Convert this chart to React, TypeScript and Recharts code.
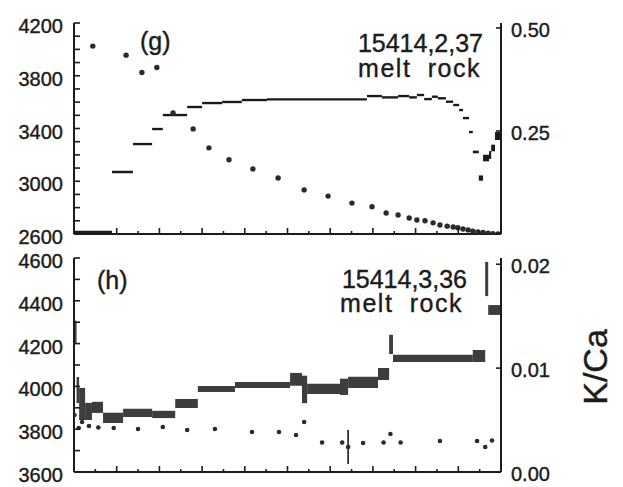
import React from "react"
import {
    ComposedChart,
    Scatter,
    XAxis,
    YAxis,
    ReferenceArea,
    ErrorBar
} from "recharts"

// panel (g) 15414,2,37 - step edges in cumulative % 39Ar, ages in Ma
const gEdges = [0, 8.9, 13.8, 18.3, 20.8, 26.5, 30.0, 34.7, 39.3, 45.2, 68.6, 72.1, 75.9, 78.5, 80.3, 82.0, 83.8, 85.2, 87.1, 88.8, 90.2, 91.1, 92.5, 93.4, 94.8, 95.8, 97.2, 97.7, 98.6, 100]
const gAges = [2615, 3070, 3282, 3396, 3502, 3563, 3593, 3601, 3616, 3621, 3646, 3636, 3646, 3636, 3654, 3623, 3641, 3629, 3603, 3578, 3540, 3479, 3373, 3222, 3024, 3176, 3199, 3252, 3343]
const gErrs = [10, 10, 9, 9, 9, 9, 9, 9, 9, 9, 9, 9, 9, 9, 9, 9, 9, 9, 9, 9, 9, 9, 9, 10, 20, 25, 30, 25, 30]
const gKcaX = [4.4, 12.2, 15.9, 19.4, 23.2, 27.9, 31.6, 36.3, 41.9, 47.8, 53.9, 59.5, 65.1, 69.8, 73.1, 75.9, 78.5, 80.3, 82.2, 84.1, 85.7, 87.4, 88.8, 89.9, 91.1, 92.3, 93.4, 94.6, 95.8, 97.0, 98.1, 99.3]
const gKca = [0.456, 0.434, 0.392, 0.404, 0.294, 0.255, 0.209, 0.180, 0.158, 0.136, 0.107, 0.092, 0.075, 0.066, 0.051, 0.046, 0.039, 0.034, 0.032, 0.027, 0.022, 0.019, 0.017, 0.015, 0.012, 0.010, 0.007, 0.005, 0.004, 0.002, 0.001, 0.0]

// panel (h) 15414,3,36
const hEdges = [0, 0.6, 1.2, 2.6, 4.2, 6.8, 11.5, 18.3, 23.7, 29.0, 37.7, 50.6, 53.4, 54.6, 62.3, 64.2, 71.2, 73.8, 74.7, 93.4, 96.3, 97.0, 100]
const hAges = [4255, 3983, 3918, 3883, 3902, 3853, 3876, 3869, 3920, 3988, 4007, 4033, 3986, 3988, 3998, 4019, 4058, 4196, 4131, 4142, 4502, 4357]
const hErrs = [52, 61, 75, 40, 26, 24, 19, 17, 21, 14, 14, 30, 64, 24, 38, 26, 28, 45, 17, 28, 80, 23]
const hKcaX = [0.1, 1.1, 1.9, 3.5, 5.7, 9.3, 15.0, 20.8, 26.5, 33.0, 41.7, 48.0, 52.0, 53.9, 58.1, 62.8, 64.2, 67.7, 72.5, 74.1, 76.5, 85.7, 94.4, 96.3, 97.9]
const hKca = [0.00548, 0.00423, 0.00481, 0.00443, 0.00428, 0.00423, 0.00414, 0.00433, 0.00404, 0.00414, 0.00385, 0.00385, 0.00356, 0.00481, 0.00284, 0.00284, 0.00240, 0.00279, 0.00284, 0.00366, 0.00284, 0.00298, 0.00298, 0.00240, 0.00303]
const hKcaErr = [0, 0, 0, 0, 0, 0, 0, 0, 0, 0, 0, 0, 0, 0, 0, 0, 0.00164, 0, 0, 0, 0, 0, 0, 0, 0]

const pctTicks = [5, 10, 15, 20, 25, 30, 35, 40, 45, 50, 55, 60, 65, 70, 75, 80, 85, 90, 95]
const gAgeTicks = [2600, 2700, 2800, 2900, 3000, 3100, 3200, 3300, 3400, 3500, 3600, 3700, 3800, 3900, 4000, 4100, 4200]
const gAgeLabels = [2600, 3000, 3400, 3800, 4200]
const gKcaTicks = [0, 0.25, 0.5]
const gKcaLabels = [0.25, 0.5]
const hAgeTicks = [3600, 3700, 3800, 3900, 4000, 4100, 4200, 4300, 4400, 4500, 4600]
const hAgeLabels = [3600, 3800, 4000, 4200, 4400, 4600]
const hKcaTicks = [0, 0.01, 0.02]
const hKcaLabels = [0, 0.01, 0.02]

const FONT = '"Liberation Sans", Arial, sans-serif'
const INK = "#1c1c1c"
const axisLine = { stroke: INK, strokeWidth: 2 }

const XTick = (props: any) => {
    const { x, y, payload } = props
    const len = payload.value % 10 === 0 ? 6 : 3
    return <line x1={x} x2={x} y1={y} y2={y - len} stroke={INK} strokeWidth={1.6} />
}

const leftTick = (labels: number[]) => (props: any) => {
    const { x, y, payload } = props
    return (
        <g>
            <line x1={x} x2={x + 6} y1={y} y2={y} stroke={INK} strokeWidth={1.6} />
            {labels.includes(payload.value) && (
                <text x={x - 11} y={y + 10} textAnchor="end" fontSize={20} fontFamily={FONT}
                    fill={INK} stroke={INK} strokeWidth={0.4}>
                    {payload.value}
                </text>
            )}
        </g>
    )
}

const rightTick = (labels: number[]) => (props: any) => {
    const { x, y, payload } = props
    return (
        <g>
            <line x1={x} x2={x - 5} y1={y} y2={y} stroke={INK} strokeWidth={1.6} />
            {labels.includes(payload.value) && (
                <text x={x + 10} y={y + 9} textAnchor="start" fontSize={20} fontFamily={FONT}
                    fill={INK} stroke={INK} strokeWidth={0.4}>
                    {payload.value.toFixed(2)}
                </text>
            )}
        </g>
    )
}

function Panel(p: any) {
    const steps = p.ages.map((a: number, i: number) => ({
        x1: p.edges[i], x2: p.edges[i + 1], y1: a - p.errs[i], y2: a + p.errs[i]
    }))
    const dots = p.kca.map((v: number, i: number) => ({
        x: p.kcaX[i], kca: v, err: p.kcaErr ? p.kcaErr[i] : 0
    }))
    return (
        <div style={{ position: "absolute", left: 0, top: p.top }}>
            <ComposedChart width={623} height={p.height} margin={{ top: p.marginTop, right: 0, bottom: 0, left: 0 }}>
                <XAxis xAxisId="b" type="number" dataKey="x" domain={[0, 100]} allowDataOverflow
                    ticks={pctTicks} interval={0} tickSize={0} tickMargin={0} tickLine={false}
                    tick={<XTick />} height={p.xHeight} axisLine={axisLine} />
                <XAxis xAxisId="t" orientation="top" type="number" domain={[0, 100]}
                    tick={false} tickLine={false} height={0} axisLine={axisLine} />
                <YAxis yAxisId="age" type="number" domain={p.ageDomain} allowDataOverflow
                    ticks={p.ageTicks} interval={0} tickSize={0} tickMargin={0} tickLine={false}
                    tick={leftTick(p.ageLabels)} width={74} axisLine={axisLine} />
                <YAxis yAxisId="kca" orientation="right" type="number" domain={p.kcaDomain} allowDataOverflow
                    ticks={p.kcaTicks} interval={0} tickSize={0} tickMargin={0} tickLine={false}
                    tick={rightTick(p.kcaLabels)} width={122} axisLine={axisLine} />
                {steps.map((s: any, i: number) => (
                    <ReferenceArea key={i} xAxisId="b" yAxisId="age" x1={s.x1} x2={s.x2} y1={s.y1} y2={s.y2}
                        fill={p.fill} fillOpacity={1} stroke="none" />
                ))}
                <Scatter data={dots} xAxisId="b" yAxisId="kca" dataKey="kca" isAnimationActive={false}
                    shape={(d: any) => <circle cx={d.cx} cy={d.cy} r={p.dotR} fill="#2a2a2a" />}>
                    {p.kcaErr && <ErrorBar dataKey="err" direction="y" width={0} stroke={INK} strokeWidth={1.6} />}
                </Scatter>
            </ComposedChart>
        </div>
    )
}

export default function App() {
    const txt = { fontFamily: FONT, fill: INK, stroke: INK, strokeWidth: 0.4 }
    return (
        <div style={{ position: "absolute", left: 0, top: 0, width: 623, height: 487, background: "#fff", overflow: "hidden" }}>
            <Panel top={0} height={250} marginTop={23} xHeight={16}
                edges={gEdges} ages={gAges} errs={gErrs} fill="#1a1a1a"
                kcaX={gKcaX} kca={gKca} dotR={2.7}
                ageDomain={[2600, 4200]} ageTicks={gAgeTicks} ageLabels={gAgeLabels}
                kcaDomain={[0, 0.512]} kcaTicks={gKcaTicks} kcaLabels={gKcaLabels} />
            <Panel top={240} height={247} marginTop={18} xHeight={15}
                edges={hEdges} ages={hAges} errs={hErrs} fill="#3d3d3d"
                kcaX={hKcaX} kca={hKca} kcaErr={hKcaErr} dotR={2.3}
                ageDomain={[3600, 4600]} ageTicks={hAgeTicks} ageLabels={hAgeLabels}
                kcaDomain={[0, 0.0206]} kcaTicks={hKcaTicks} kcaLabels={hKcaLabels} />
            <svg width={623} height={487} style={{ position: "absolute", left: 0, top: 0, pointerEvents: "none" }}>
                <text x={140} y={50} fontSize={25} {...txt}>(g)</text>
                <text x={483} y={52} fontSize={25} textAnchor="end" {...txt}>15414,2,37</text>
                <text x={481} y={77} fontSize={25} textAnchor="end" letterSpacing={1.5} wordSpacing={8} {...txt}>melt rock</text>
                <text x={97} y={289} fontSize={25} {...txt}>(h)</text>
                <text x={467} y={288} fontSize={25} textAnchor="end" {...txt}>15414,3,36</text>
                <text x={463} y={312} fontSize={25} textAnchor="end" letterSpacing={1.5} wordSpacing={8} {...txt}>melt rock</text>
                <text x={607} y={367} fontSize={34} textAnchor="middle" transform="rotate(-90 607 367)" {...txt}>K/Ca</text>
            </svg>
        </div>
    )
}
